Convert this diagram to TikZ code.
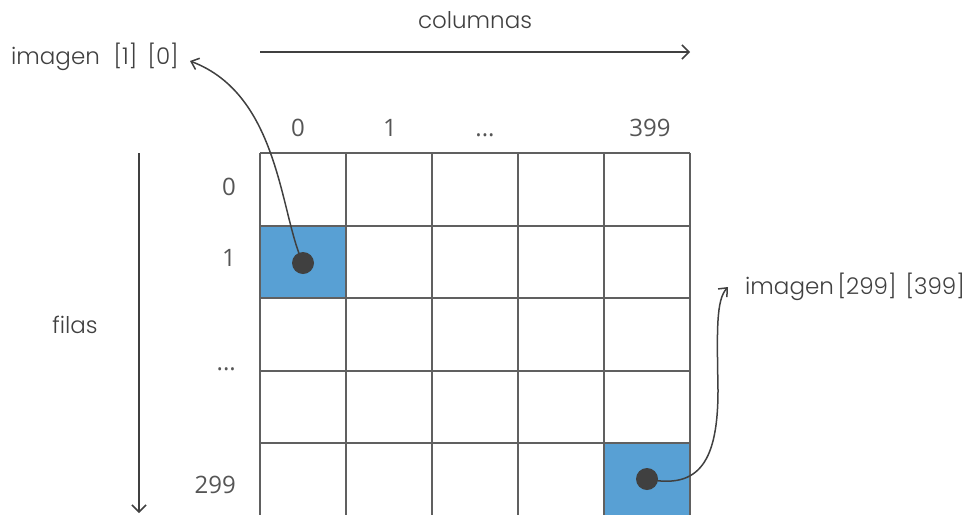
\documentclass[tikz,border=0pt]{standalone}
\usepackage{fontspec}
\setmainfont{Poppins}[UprightFont=* Light]
\newfontfamily\numfont{Open Sans}
\usetikzlibrary{arrows.meta}
\definecolor{cellblue}{RGB}{88,160,212}
\definecolor{ink}{RGB}{64,64,64}
\definecolor{gridc}{RGB}{96,96,96}
\definecolor{numc}{RGB}{85,85,85}
\tikzset{
  lbl/.style={font=\fontsize{23}{26}\selectfont, text=ink, inner sep=0pt},
  num/.style={font=\numfont\fontsize{24}{28}\selectfont, text=numc, inner sep=0pt},
  conn/.style={draw=ink, line width=1.5pt, -{Straight Barb[length=7pt,width=12pt]}},
  axis/.style={draw=ink, line width=1.5pt, -{Straight Barb[length=7pt,width=14pt]}},
  dot/.style={circle, fill=ink, minimum size=22pt, inner sep=0pt},
  gridline/.style={draw=gridc, line width=1.3pt}
}
\begin{document}
\begin{tikzpicture}[x=1pt,y=-1pt]
\useasboundingbox (0,0) rectangle (974,515);
% blue cells
\fill[cellblue] (260,226) rectangle (346,298);
\fill[cellblue] (604,443) rectangle (690,515);
% grid
\foreach \x in {260,346,432,518,604,690} \draw[gridline] (\x,153) -- (\x,515);
\foreach \y in {153,226,298,371,443} \draw[gridline] (260,\y) -- (690,\y);
% axes
\coordinate (c0) at (260,52);
\coordinate (c1) at (690,52);
\draw[axis] (c0) -- (c1);
\node[lbl] (columnas) at (475,20) {columnas};
\coordinate (r0) at (139,153);
\coordinate (r1) at (139,513);
\draw[axis] (r0) -- (r1);
\node[lbl] (filas) at (75,325) {filas};
% column labels
\node[num,anchor=base] (col0) at (298,136) {0};
\node[num,anchor=base] (col1) at (390,136) {1};
\node[num,anchor=base] (coldots) at (485,136) {...};
\node[num,anchor=base] (col399) at (650,136) {399};
% row labels
\node[num,anchor=base east] (row0) at (236,195) {0};
\node[num,anchor=base east] (row1) at (236,266) {1};
\node[num,anchor=base east] (rowdots) at (236,370) {...};
\node[num,anchor=base east] (row299) at (236,493) {299};
% dots
\node[dot] (d1) at (303,263) {};
\node[dot] (d2) at (647,479) {};
% labels
\node[lbl,anchor=west] (im1) at (11,57) {imagen\hspace{0.6em}[1]\hspace{0.45em}[0]};
\node[lbl,anchor=west] (im2) at (745,287) {imagen\,[299]\hspace{0.4em}[399]};
% connectors
\coordinate (e1) at (190,61);
\draw[conn] (d1.center) .. controls (280,215) and (280,95) .. (e1);
\coordinate (m2) at (718,390);
\coordinate (e2) at (728,287);
\draw[conn] (d2.center) .. controls (700,490) and (718,460) .. (m2) .. controls (717,330) and (716,300) .. (e2);
\end{tikzpicture}
\end{document}
